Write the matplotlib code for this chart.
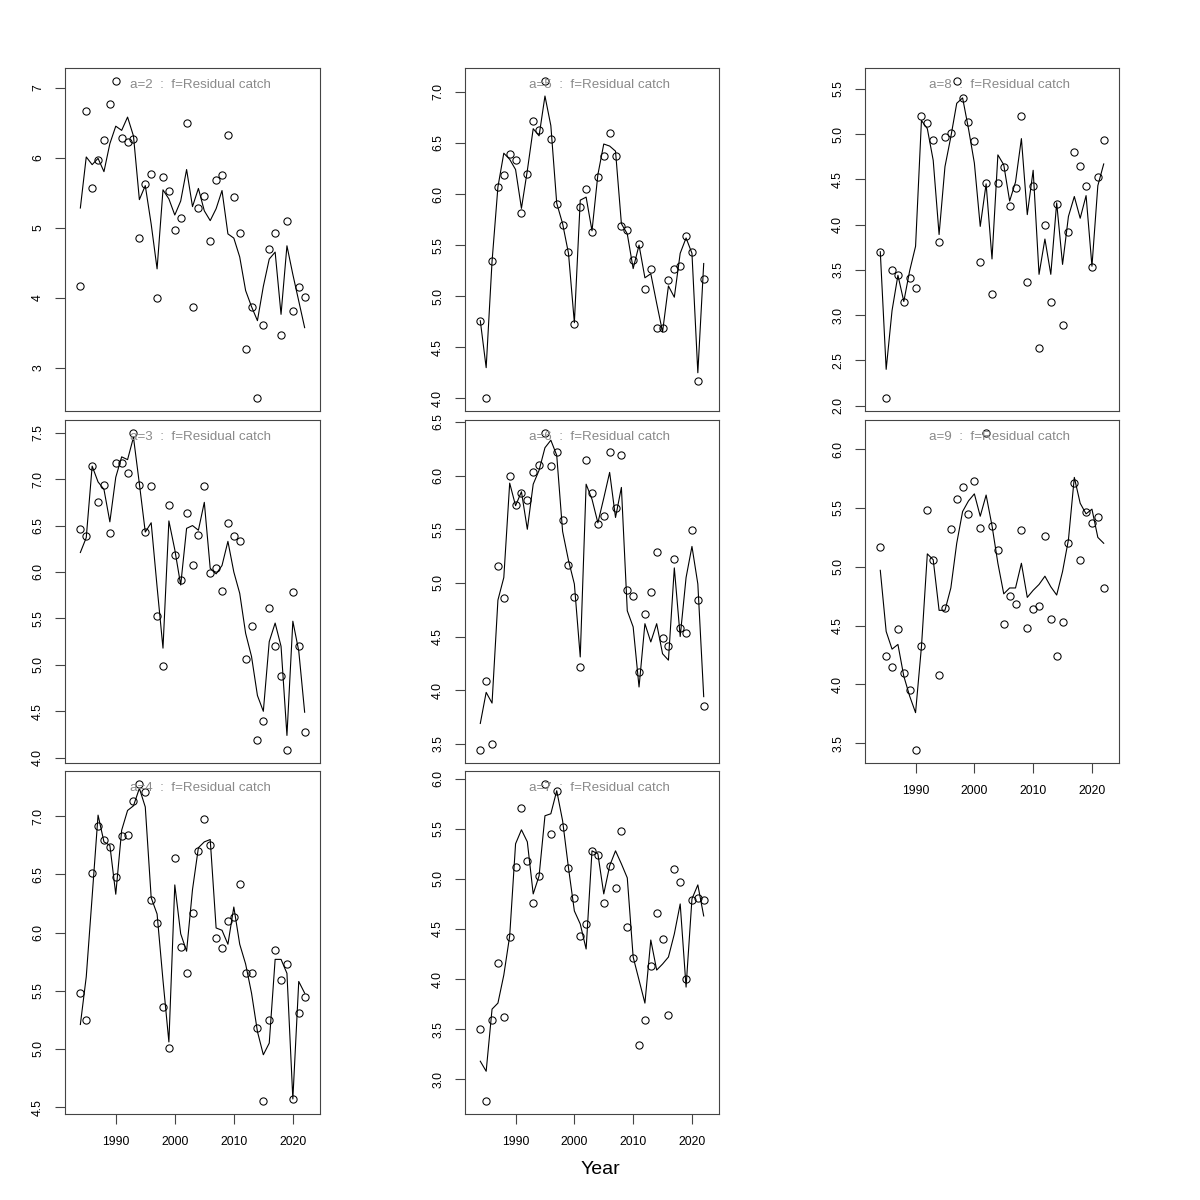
import numpy as np
import matplotlib
matplotlib.use("Agg")
import matplotlib.pyplot as plt

plt.rcParams['font.family'] = ['Liberation Sans', 'DejaVu Sans']

years = list(range(1984, 2023))

# a=2
obs_a2 = [4.16, 6.67, 5.56, 5.97, 6.25, 6.77, 7.10, 6.28, 6.23, 6.27, 4.85, 5.62, 5.76, 3.99, 5.72, 5.52,
          4.96, 5.14, 6.49, 3.87, 5.28, 5.45, 4.81, 5.68, 5.75, 6.33, 5.44, 4.93, 3.26, 3.87, 2.56, 3.61,
          4.70, 4.92, 3.46, 5.09, 3.81, 4.15, 4.01]
fit_a2 = [5.28, 6.01, 5.90, 5.99, 5.80, 6.20, 6.45, 6.39, 6.58, 6.31, 5.40, 5.60, 5.05, 4.41, 5.54, 5.41,
          5.18, 5.38, 5.83, 5.30, 5.56, 5.24, 5.10, 5.27, 5.53, 4.91, 4.85, 4.58, 4.10, 3.87, 3.67, 4.16,
          4.55, 4.65, 3.76, 4.74, 4.33, 3.95, 3.57]
# a=5
obs_a5 = [4.76, 4.00, 5.34, 6.07, 6.19, 6.39, 6.33, 5.81, 6.20, 6.72, 6.63, 7.11, 6.54, 5.90, 5.70, 5.43,
          4.73, 5.87, 6.05, 5.63, 6.17, 6.37, 6.60, 6.37, 5.69, 5.65, 5.35, 5.51, 5.07, 5.27, 4.69, 4.69,
          5.16, 5.27, 5.30, 5.59, 5.43, 4.17, 5.17]
fit_a5 = [4.76, 4.30, 5.34, 6.07, 6.40, 6.34, 6.24, 5.86, 6.23, 6.64, 6.57, 6.96, 6.67, 5.91, 5.71, 5.42,
          4.74, 5.94, 5.97, 5.64, 6.19, 6.49, 6.47, 6.42, 5.71, 5.61, 5.27, 5.50, 5.18, 5.22, 4.93, 4.65,
          5.10, 4.99, 5.42, 5.57, 5.42, 4.25, 5.32]
# a=8
obs_a8 = [3.70, 2.08, 3.50, 3.44, 3.14, 3.41, 3.30, 5.20, 5.12, 4.93, 3.81, 4.97, 5.01, 5.59, 5.40, 5.13,
          4.92, 3.59, 4.46, 3.23, 4.46, 4.64, 4.21, 4.40, 5.20, 3.37, 4.43, 2.64, 4.00, 3.14, 4.23, 2.89,
          3.92, 4.80, 4.65, 4.43, 3.53, 4.53, 4.93]
fit_a8 = [3.70, 2.40, 3.05, 3.44, 3.15, 3.49, 3.76, 5.15, 5.06, 4.71, 3.89, 4.64, 4.97, 5.34, 5.40, 5.06,
          4.68, 3.98, 4.45, 3.62, 4.77, 4.66, 4.26, 4.47, 4.95, 4.11, 4.60, 3.45, 3.84, 3.45, 4.24, 3.56,
          4.09, 4.31, 4.07, 4.32, 3.54, 4.43, 4.67]
# a=3
obs_a3 = [6.46, 6.39, 7.14, 6.75, 6.94, 6.42, 7.17, 7.17, 7.07, 7.50, 6.94, 6.43, 6.93, 5.53, 4.99, 6.72,
          6.18, 5.91, 6.63, 6.07, 6.40, 6.93, 5.99, 6.04, 5.80, 6.53, 6.39, 6.33, 5.06, 5.42, 4.19, 4.40,
          5.61, 5.20, 4.88, 4.08, 5.78, 5.20, 4.28]
fit_a3 = [6.21, 6.37, 7.14, 6.97, 6.89, 6.54, 7.02, 7.24, 7.21, 7.45, 6.95, 6.43, 6.53, 5.84, 5.18, 6.55,
          6.24, 5.86, 6.47, 6.50, 6.45, 6.75, 6.04, 5.98, 6.07, 6.33, 6.00, 5.77, 5.34, 5.09, 4.67, 4.50,
          5.25, 5.45, 5.20, 4.24, 5.47, 5.15, 4.49]
# a=6
obs_a6 = [3.44, 4.09, 3.50, 5.16, 4.86, 6.00, 5.73, 5.84, 5.77, 6.03, 6.10, 6.40, 6.09, 6.22, 5.59, 5.17,
          4.87, 4.22, 6.15, 5.84, 5.55, 5.62, 6.22, 5.70, 6.19, 4.93, 4.88, 4.17, 4.71, 4.92, 5.29, 4.49,
          4.41, 5.22, 4.58, 4.53, 5.49, 4.84, 3.85]
fit_a6 = [3.69, 3.98, 3.88, 4.84, 5.05, 5.93, 5.72, 5.85, 5.50, 5.92, 6.05, 6.26, 6.33, 6.19, 5.48, 5.21,
          4.99, 4.31, 5.92, 5.78, 5.56, 5.79, 6.03, 5.61, 5.89, 4.74, 4.59, 4.03, 4.62, 4.45, 4.62, 4.34,
          4.28, 5.14, 4.50, 5.05, 5.34, 4.99, 3.94]
# a=9
obs_a9 = [5.17, 4.24, 4.15, 4.47, 4.10, 3.95, 3.44, 4.33, 5.48, 5.06, 4.08, 4.65, 5.32, 5.58, 5.68, 5.45,
          5.73, 5.33, 6.14, 5.35, 5.14, 4.51, 4.75, 4.68, 5.31, 4.48, 4.64, 4.67, 5.26, 4.56, 4.24, 4.53,
          5.20, 5.71, 5.06, 5.47, 5.37, 5.42, 4.82]
fit_a9 = [4.97, 4.45, 4.30, 4.34, 4.07, 3.90, 3.76, 4.32, 5.11, 5.06, 4.63, 4.63, 4.82, 5.20, 5.47, 5.56,
          5.62, 5.43, 5.61, 5.35, 5.03, 4.77, 4.82, 4.82, 5.03, 4.74, 4.80, 4.85, 4.92, 4.83, 4.76, 4.96,
          5.23, 5.76, 5.54, 5.45, 5.49, 5.25, 5.20]
# a=4
obs_a4 = [5.48, 5.25, 6.51, 6.92, 6.80, 6.74, 6.48, 6.83, 6.84, 7.13, 7.28, 7.21, 6.28, 6.08, 5.36, 5.01,
          6.64, 5.88, 5.65, 6.17, 6.70, 6.98, 6.75, 5.95, 5.87, 6.10, 6.13, 6.42, 5.65, 5.65, 5.18, 4.55,
          5.25, 5.85, 5.59, 5.73, 4.57, 5.31, 5.45]
fit_a4 = [5.21, 5.62, 6.31, 7.01, 6.78, 6.75, 6.33, 6.88, 7.05, 7.09, 7.24, 7.08, 6.30, 6.16, 5.59, 5.06,
          6.41, 5.99, 5.84, 6.37, 6.73, 6.78, 6.80, 6.04, 6.02, 5.90, 6.22, 5.90, 5.73, 5.48, 5.15, 4.95,
          5.05, 5.77, 5.77, 5.65, 4.57, 5.58, 5.48]
# a=7
obs_a7 = [3.50, 2.78, 3.59, 4.16, 3.62, 4.42, 5.12, 5.71, 5.18, 4.76, 5.03, 5.95, 5.45, 5.88, 5.52, 5.11,
          4.81, 4.43, 4.55, 5.28, 5.24, 4.76, 5.13, 4.91, 5.48, 4.52, 4.21, 3.34, 3.59, 4.13, 4.66, 4.40,
          3.64, 5.10, 4.97, 4.00, 4.79, 4.81, 4.79]
fit_a7 = [3.18, 3.08, 3.70, 3.76, 4.04, 4.43, 5.35, 5.49, 5.37, 4.85, 5.03, 5.63, 5.65, 5.88, 5.58, 5.11,
          4.68, 4.55, 4.30, 5.28, 5.25, 4.85, 5.13, 5.28, 5.15, 5.01, 4.22, 3.99, 3.76, 4.39, 4.09, 4.15,
          4.22, 4.45, 4.75, 3.92, 4.80, 4.94, 4.63]

panel_titles = ["a=2  :  f=Residual catch", "a=5  :  f=Residual catch", "a=8  :  f=Residual catch",
                "a=3  :  f=Residual catch", "a=6  :  f=Residual catch", "a=9  :  f=Residual catch",
                "a=4  :  f=Residual catch", "a=7  :  f=Residual catch"]
panel_obs = [obs_a2, obs_a5, obs_a8, obs_a3, obs_a6, obs_a9, obs_a4, obs_a7]
panel_fit = [fit_a2, fit_a5, fit_a8, fit_a3, fit_a6, fit_a9, fit_a4, fit_a7]
panel_yticks = [[3, 4, 5, 6, 7],
                [4.0, 4.5, 5.0, 5.5, 6.0, 6.5, 7.0],
                [2.0, 2.5, 3.0, 3.5, 4.0, 4.5, 5.0, 5.5],
                [4.0, 4.5, 5.0, 5.5, 6.0, 6.5, 7.0, 7.5],
                [3.5, 4.0, 4.5, 5.0, 5.5, 6.0, 6.5],
                [3.5, 4.0, 4.5, 5.0, 5.5, 6.0],
                [4.5, 5.0, 5.5, 6.0, 6.5, 7.0],
                [3.0, 3.5, 4.0, 4.5, 5.0, 5.5, 6.0]]
panel_yfmt = ["{:.0f}"] + ["{:.1f}"] * 7
xticks = [1990, 2000, 2010, 2020]
x_label = "Year"

fig = plt.figure(figsize=(12, 12), dpi=100)
W = 1200.0
col_left = [65, 465, 865]
col_w = [255, 254, 254]
row_top = [68, 420, 771]
row_h = 343
has_xaxis = [False, False, False, False, False, True, True, True]
spine_c = '#444444'

for i in range(8):
    r, c = divmod(i, 3)
    left = col_left[c] / W
    bottom = 1 - (row_top[r] + row_h) / W
    ax = fig.add_axes([left, bottom, col_w[c] / W, row_h / W])
    obs = np.array(panel_obs[i])
    fit = np.array(panel_fit[i])
    ax.plot(years, fit, color='black', lw=0.8)
    ax.plot(years, obs, linestyle='none', marker='o', ms=5.2, mfc='none', mec='black', mew=0.75)
    lo = min(obs.min(), fit.min())
    hi = max(obs.max(), fit.max())
    rg = hi - lo
    ax.set_ylim(lo - 0.04 * rg, hi + 0.04 * rg)
    ax.set_xlim(1981.4, 2024.6)
    yt = panel_yticks[i]
    ax.set_yticks(yt)
    ax.set_yticklabels([panel_yfmt[i].format(v) for v in yt], rotation=90, va='center')
    ax.tick_params(axis='y', direction='out', length=7, width=0.8, color=spine_c, labelsize=8.8, pad=8)
    if has_xaxis[i]:
        ax.set_xticks(xticks)
        ax.set_xticklabels([str(v) for v in xticks])
        ax.tick_params(axis='x', direction='out', length=7, width=0.8, color=spine_c, labelsize=8.8, pad=9)
    else:
        ax.set_xticks([])
    for s in ax.spines.values():
        s.set_color(spine_c)
        s.set_linewidth(0.8)
    ax.text(0.531, 0.951, panel_titles[i], transform=ax.transAxes, ha='center', va='center',
            color='#8a8a8a', fontsize=9.6)

fig.text(0.5, 1 - 1170 / W, x_label, ha='center', va='center', fontsize=14)

fig.savefig("out.png", dpi=100)
